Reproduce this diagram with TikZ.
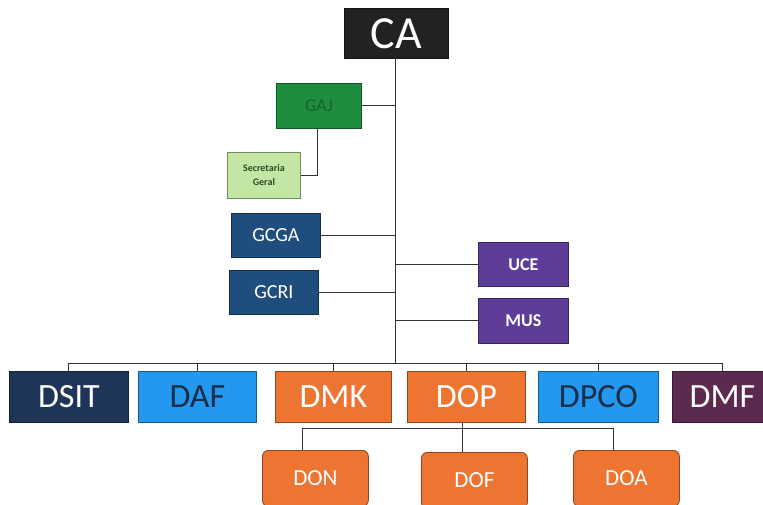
\documentclass[tikz,border=0pt]{standalone}
\usepackage{fontspec}
\setmainfont{Carlito}
\definecolor{caC}{HTML}{222222}
\definecolor{gajC}{HTML}{1E8E3E}
\definecolor{gajT}{HTML}{17622B}
\definecolor{secC}{HTML}{C4E6A4}
\definecolor{secT}{HTML}{2E4A22}
\definecolor{gcC}{HTML}{1F4E7E}
\definecolor{purC}{HTML}{5E3D98}
\definecolor{navyC}{HTML}{1F3558}
\definecolor{ltbC}{HTML}{2497EE}
\definecolor{ltbT}{HTML}{1A2E4A}
\definecolor{orC}{HTML}{EE7431}
\definecolor{plumC}{HTML}{5C2A4E}
\definecolor{lineC}{HTML}{333333}
\tikzset{
  x=1pt,y=-1pt,
  box/.style={draw=#1!60!black,line width=0.8pt,fill=#1,inner sep=0pt,anchor=north west},
  conn/.style={draw=lineC,line width=1pt},
}
\begin{document}
\begin{tikzpicture}
\useasboundingbox (0,0) rectangle (763,504);
% boxes
\node[box=caC,minimum width=104,minimum height=50,text=white,font=\fontsize{46}{46}\selectfont] (CA) at (344,8) {CA};
\node[box=gajC,minimum width=85,minimum height=45,text=gajT,font=\fontsize{18}{18}\selectfont] (GAJ) at (276,83) {GAJ};
\node[box=secC,minimum width=73,minimum height=46,text=secT,font=\fontsize{10}{14}\selectfont\bfseries,align=center] (SEC) at (227,152) {Secretaria\\Geral};
\node[box=gcC,minimum width=89,minimum height=44,text=white,font=\fontsize{20}{20}\selectfont] (GCGA) at (231,213) {GCGA};
\node[box=gcC,minimum width=89,minimum height=44,text=white,font=\fontsize{20}{20}\selectfont] (GCRI) at (229,270) {GCRI};
\node[box=purC,minimum width=90,minimum height=44,text=white,font=\fontsize{18}{18}\selectfont\bfseries] (UCE) at (478,242) {UCE};
\node[box=purC,minimum width=90,minimum height=45,text=white,font=\fontsize{18}{18}\selectfont\bfseries] (MUS) at (478,298) {MUS};
\tikzset{row/.style={minimum width=118,minimum height=51,font=\fontsize{34}{34}\selectfont}}
\node[box=navyC,row,text=white,minimum width=119] (DSIT) at (9,371) {DSIT};
\node[box=ltbC,row,text=ltbT] (DAF) at (138,371) {DAF};
\node[box=orC,row,text=white,minimum width=116] (DMK) at (275,371) {DMK};
\node[box=orC,row,text=white] (DOP) at (407,371) {DOP};
\node[box=ltbC,row,text=ltbT,minimum width=120] (DPCO) at (538,371) {DPCO};
\node[box=plumC,row,text=white,minimum width=100] (DMF) at (672,371) {DMF};
\tikzset{sub/.style={box=orC,rounded corners=6pt,minimum width=106,minimum height=56,text=white,font=\fontsize{23}{23}\selectfont}}
\node[sub] (DON) at (262,450) {DON};
\node[sub] (DOF) at (421,452) {DOF};
\node[sub] (DOA) at (573,450) {DOA};
% connectors
\coordinate (T0) at (395,58);
\coordinate (TB) at (395,363);
\draw[conn] (T0) -- (TB);
\draw[conn] (GAJ.east) -- (GAJ.east -| T0);
\draw[conn] (GCGA.east) -- (GCGA.east -| T0);
\draw[conn] (GCRI.east) -- (GCRI.east -| T0);
\draw[conn] (UCE.west) -- (UCE.west -| T0);
\draw[conn] (MUS.west) -- (MUS.west -| T0);
\draw[conn] (GAJ.south west) ++(41,0) coordinate (G1) -- (G1 |- SEC.east) -- (SEC.east);
\coordinate (B0) at (68,363);
\coordinate (B1) at (722,363);
\draw[conn] (B0) -- (B1);
\draw[conn] (B0) -- (DSIT.north -| B0);
\draw[conn] (DAF.north) -- (DAF.north |- B0);
\draw[conn] (DMK.north) -- (DMK.north |- B0);
\draw[conn] (DOP.north) -- (DOP.north |- B0);
\draw[conn] (DPCO.north) -- (DPCO.north |- B0);
\draw[conn] (B1) -- (DMF.north -| B1);
\coordinate (S0) at (462,428);
\draw[conn] (DOP.south -| S0) -- (S0);
\draw[conn] (DON.north -| 302,0) -- (302,428) -- (613,428) -- (DOA.north -| 613,0);
\draw[conn] (S0) -- (DOF.north -| S0);
\end{tikzpicture}
\end{document}
